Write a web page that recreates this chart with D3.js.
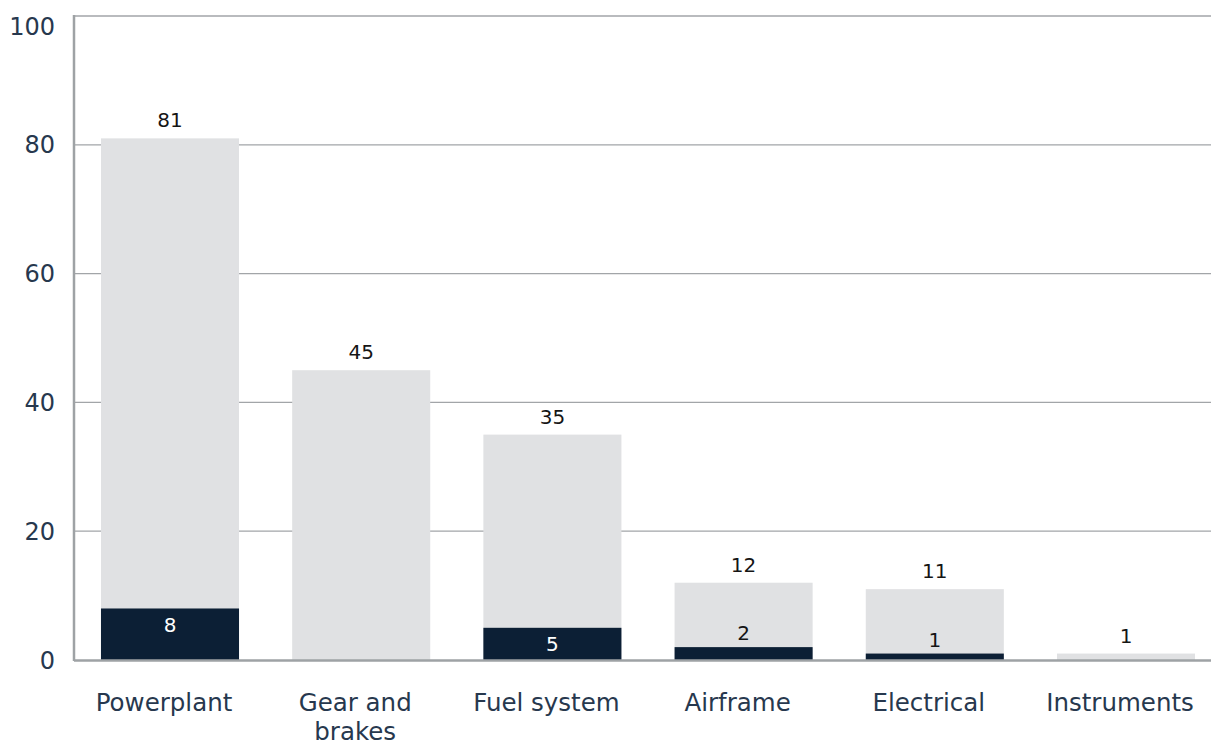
<!DOCTYPE html>
<html>
<head>
<meta charset="utf-8">
<script src="https://cdn.jsdelivr.net/npm/d3@7"></script>
<style>
  html, body { margin: 0; padding: 0; background: #fff; }
  svg { display: block; }
  text { font-family: "DejaVu Sans", "Open Sans", sans-serif; }
</style>
</head>
<body>
<svg id="chart" width="1217" height="746"></svg>
<script>
// Occurrences by system: total count and the part involving the highlighted subset
const categories = ["Powerplant", "Gear and\nbrakes", "Fuel system", "Airframe", "Electrical", "Instruments"];
const totals = [81, 45, 35, 12, 11, 1];
const subset = [8, 0, 5, 2, 1, 0];
const yTicks = [0, 20, 40, 60, 80, 100];

const svg = d3.select("#chart");

const x = d3.scaleBand()
  .domain(categories)
  .range([74.4, 1221.6])
  .paddingInner(0.278)
  .paddingOuter(0.139);

const y = d3.scaleLinear().domain([0, 100]).range([660, 16]);

const left = 74, right = 1211;
const textColor = "#27384e";

// horizontal gridlines
svg.append("g")
  .selectAll("line")
  .data(yTicks.filter(d => d > 0))
  .join("line")
  .attr("x1", left).attr("x2", right)
  .attr("y1", d => y(d)).attr("y2", d => y(d))
  .attr("stroke", "#a2a5a8").attr("stroke-width", 1.3);

// y tick labels
svg.append("g")
  .selectAll("text")
  .data(yTicks)
  .join("text")
  .attr("x", 55)
  .attr("y", d => Math.max(y(d), 26.5))
  .attr("dy", "0.36em")
  .attr("text-anchor", "end")
  .attr("font-size", 24)
  .attr("fill", textColor)
  .text(d => d);

const rows = categories.map((c, i) => ({ c, total: totals[i], sub: subset[i] }));

// total bars
svg.append("g")
  .selectAll("rect")
  .data(rows)
  .join("rect")
  .attr("x", d => x(d.c))
  .attr("width", x.bandwidth())
  .attr("y", d => y(d.total))
  .attr("height", d => y(0) - y(d.total))
  .attr("fill", "#e0e1e3");

// highlighted subset bars
svg.append("g")
  .selectAll("rect")
  .data(rows.filter(d => d.sub > 0))
  .join("rect")
  .attr("x", d => x(d.c))
  .attr("width", x.bandwidth())
  .attr("y", d => y(d.sub))
  .attr("height", d => y(0) - y(d.sub))
  .attr("fill", "#0c1f35");

// total value labels
svg.append("g")
  .selectAll("text")
  .data(rows)
  .join("text")
  .attr("x", d => x(d.c) + x.bandwidth() / 2)
  .attr("y", d => y(d.total) - 11)
  .attr("text-anchor", "middle")
  .attr("font-size", 20)
  .attr("fill", "#151515")
  .text(d => d.total);

// subset value labels: inside when the bar is tall enough, above otherwise
const tall = d => (y(0) - y(d.sub)) > 25;
svg.append("g")
  .selectAll("text")
  .data(rows.filter(d => d.sub > 0))
  .join("text")
  .attr("x", d => x(d.c) + x.bandwidth() / 2)
  .attr("y", d => tall(d) ? y(d.sub) + 16 : y(d.sub) - 7)
  .attr("dy", d => tall(d) ? "0.36em" : 0)
  .attr("text-anchor", "middle")
  .attr("font-size", 20)
  .attr("fill", d => tall(d) ? "#ffffff" : "#151515")
  .text(d => d.sub);

// axis lines
svg.append("line")
  .attr("x1", left).attr("x2", left)
  .attr("y1", 15).attr("y2", 661)
  .attr("stroke", "#9ea2a5").attr("stroke-width", 2.5);
svg.append("line")
  .attr("x1", left).attr("x2", right)
  .attr("y1", 660.5).attr("y2", 660.5)
  .attr("stroke", "#9ea2a5").attr("stroke-width", 2.5);

// category labels
const cat = svg.append("g")
  .selectAll("text")
  .data(categories)
  .join("text")
  .attr("x", d => x(d) + x.bandwidth() / 2 - 6)
  .attr("y", 711)
  .attr("text-anchor", "middle")
  .attr("font-size", 24.5)
  .attr("fill", textColor);
cat.selectAll("tspan")
  .data(d => d.split("\n"))
  .join("tspan")
  .attr("x", function () { return d3.select(this.parentNode).attr("x"); })
  .attr("dy", (d, i) => i === 0 ? 0 : 28.5)
  .text(d => d);
</script>
</body>
</html>
